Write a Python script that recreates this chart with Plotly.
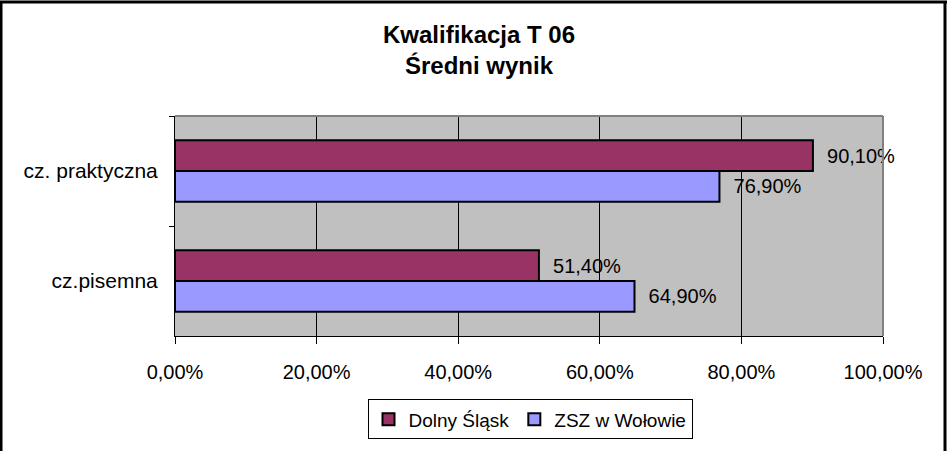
import plotly.graph_objects as go

categories = ["cz. praktyczna", "cz.pisemna"]
series_names = ["Dolny Śląsk", "ZSZ w Wołowie"]
dolny_slask = [0.901, 0.514]
zsz_wolow = [0.769, 0.649]
x_ticks = [0, 0.2, 0.4, 0.6, 0.8, 1.0]
colors = ["#993366", "#9999FF"]

W, H = 947, 451
ml, mr, mt, mb = 175, 64, 116, 113
pw, ph = W - ml - mr, H - mt - mb

def px_x(p):
    return (p - ml) / pw

def px_y(p):
    return (H - mb - p) / ph

fig = go.Figure()
for name, vals, col in zip(series_names, [dolny_slask, zsz_wolow], colors):
    fig.add_trace(go.Bar(
        y=categories, x=vals, name=name, orientation="h",
        marker=dict(color=col, line=dict(color="black", width=2)),
        texttemplate="\u00a0\u00a0%{x:.2%}", textposition="outside",
        textfont=dict(family="Liberation Sans, Arial", size=20, color="black"),
        cliponaxis=False, constraintext="none", hoverinfo="skip",
    ))

fig.update_layout(
    width=W, height=H,
    margin=dict(l=ml, r=mr, t=mt, b=mb),
    paper_bgcolor="white", plot_bgcolor="#C0C0C0",
    separators=", ",
    barmode="group", bargap=0.44, bargroupgap=0,
    font=dict(family="Liberation Sans, Arial", size=20, color="black"),
    title=dict(text="<b>Kwalifikacja T 06<br>Średni wynik</b>",
               x=479 / W, xanchor="center", y=1 - 43 / H, yanchor="middle",
               font=dict(size=24, color="black")),
    showlegend=True,
    legend=dict(orientation="h", x=px_x(530), xanchor="center",
                y=px_y(402), yanchor="top",
                bgcolor="white", bordercolor="black", borderwidth=1,
                font=dict(size=19), itemwidth=30, traceorder="normal"),
    xaxis=dict(range=[0, 1], tickvals=x_ticks, tickformat=".2%",
               showgrid=True, gridcolor="black", gridwidth=1,
               showline=True, linecolor="black", linewidth=1,
               ticks="outside", ticklen=7, tickcolor="black",
               ticklabelstandoff=11, zeroline=False, fixedrange=True),
    yaxis=dict(autorange="reversed", type="category",
               showgrid=False, showline=True, linecolor="black", linewidth=1,
               ticks="outside", ticklen=5, tickcolor="black",
               tickson="boundaries", ticklabelstandoff=12, fixedrange=True,
               tickfont=dict(size=21)),
    shapes=[
        dict(type="line", xref="paper", yref="paper", x0=0, x1=1, y0=1, y1=1,
             line=dict(color="#808080", width=2), layer="above"),
        dict(type="line", xref="paper", yref="paper", x0=1, x1=1, y0=0, y1=1,
             line=dict(color="#808080", width=2), layer="above"),
        dict(type="line", xref="paper", yref="paper", x0=px_x(1), x1=px_x(1),
             y0=px_y(0), y1=px_y(H + 10), line=dict(color="black", width=3)),
        dict(type="line", xref="paper", yref="paper", x0=px_x(0), x1=px_x(W),
             y0=px_y(1), y1=px_y(1), line=dict(color="black", width=3)),
        dict(type="line", xref="paper", yref="paper", x0=px_x(945), x1=px_x(945),
             y0=px_y(0), y1=px_y(H + 10), line=dict(color="black", width=3)),
    ],
)

fig.write_html("out.html")
